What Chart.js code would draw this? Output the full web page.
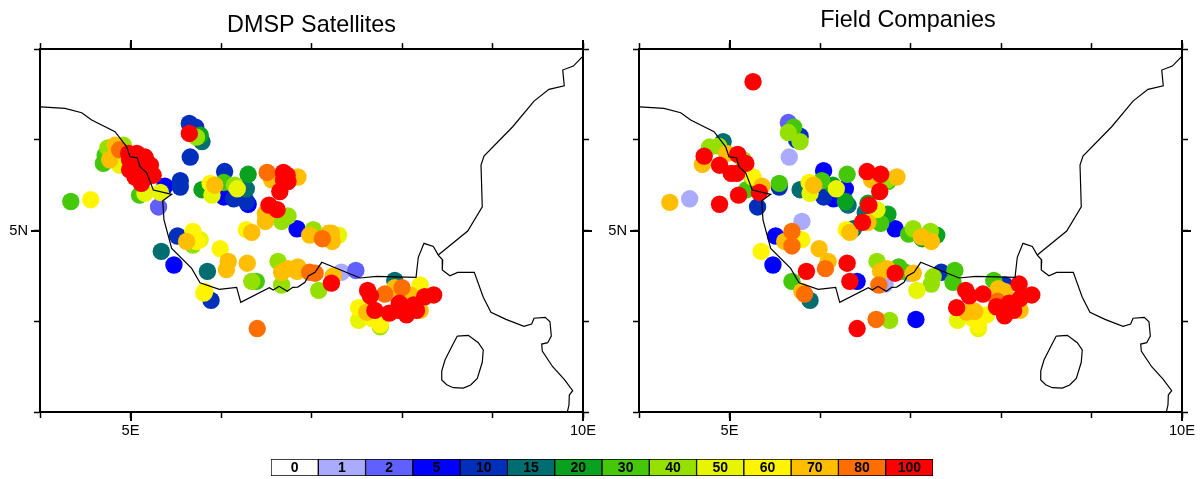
<!DOCTYPE html>
<html><head><meta charset="utf-8">
<style>html,body{margin:0;padding:0;background:#fff;width:1201px;height:479px;overflow:hidden}
canvas{position:absolute;display:block}</style>
<script src="https://cdn.jsdelivr.net/npm/chart.js@4"></script></head>
<body>
<canvas id="sat" width="623" height="445" style="left:0;top:0"></canvas>
<canvas id="field" width="616" height="445" style="left:600px;top:0"></canvas>
<canvas id="bar" width="700" height="29" style="left:250px;top:450px"></canvas>
<script>
const levels=[0,1,2,5,10,15,20,30,40,50,60,70,80,100];
const levelColors=['#FFFFFF','#AAAAFF','#6060FF','#0000FF','#0030BB','#006D70','#0AA020','#46C80A','#96E000','#E8F500','#FFF500','#FFBE00','#FF6E00','#FF0000'];
const lonTicks=[4,5,6,7,8,9,10], latTicks=[3,4,5,6,7], majorLons=[5,10], majorLats=[5];

const satLon=[7.33, 5.31,7.49, 6.03,6.30,6.84,5.38,5.48,
5.65,5.72,5.66,5.55,5.55,6.04,6.14,6.28,5.52,5.89,
5.79,5.34,6.28,5.85,7.92, 5.77,6.30,5.79,
4.34,4.70,4.72,5.10,6.03,6.39,
5.73,4.75,4.92,6.15,6.74,6.67,7.02,5.69,6.63,6.34,6.67,7.08,7.76,
5.90,5.16,5.33,6.18,4.88,5.77,7.52,7.30,
4.56,5.88,5.69,5.73,5.99,6.28,5.81,5.82,8.20,7.76,7.67,7.52,
5.93,4.77,4.83,6.56,6.85,6.49,6.49,6.34,6.98,7.19,5.62,6.08,6.06,6.29,6.67,6.74,6.84,6.85,7.22,7.23,7.24,7.61,8.09,8.20,7.92,
6.51,4.88,6.40,6.98,7.04,7.12,7.81,8.00,
5.65,4.98,5.07,5.16,5.18,4.99,4.99,5.11,5.05,5.16,5.25,5.12,5.22,5.05,5.12,5.20,6.69,6.73,6.69,6.74,6.65,6.53,6.62,7.22,7.62,7.65,7.70,7.86,7.97,7.96,8.13,8.05,8.16,8.25,8.35];
const satLat=[4.54, 5.26,4.56, 5.37,5.29,5.02,5.49,4.62,
6.18,6.14,5.81,5.55,5.48,5.65,5.35,5.32,4.94,4.23,
5.98,4.77,5.46,4.55,4.45, 6.05,5.62,5.45,
5.32,5.74,5.83,5.39,5.53,4.44,
6.03,5.91,5.94,5.50,5.16,5.10,5.01,4.84,4.66,4.44,4.40,4.34,3.94,
5.39,5.41,5.42,5.46,5.72,4.90,4.01,4.95,
5.34,5.52,4.99,4.88,4.80,5.01,4.31,4.33,4.40,3.96,4.03,4.15,
5.50,5.78,5.94,5.56,5.59,5.19,5.10,4.98,4.95,4.97,4.88,4.66,4.57,4.64,4.54,4.58,4.55,4.60,4.97,4.88,4.50,4.10,4.29,4.12,4.37,
5.64,5.89,3.92,4.54,4.53,4.91,4.30,4.37,
6.07,5.85,5.85,5.81,5.76,5.78,5.67,5.69,5.59,5.58,5.61,5.52,5.72,5.72,5.62,5.68,5.64,5.61,5.56,5.54,5.43,5.28,5.23,4.42,4.34,4.28,4.12,4.09,4.20,4.12,4.18,4.07,4.12,4.27,4.29];
const satVal=[1, 2,2, 5,5,5,5,5,
10,10,10,10,10,10,10,10,10,10,
15,15,15,15,15, 20,20,20,
30,30,30,30,30,30,
40,40,40,40,40,40,40,40,40,40,40,40,40,
50,50,50,50,50,50,50,50,
60,60,60,60,60,60,60,60,60,60,60,60,
70,70,70,70,70,70,70,70,70,70,70,70,70,70,70,70,70,70,70,70,70,70,70,70,70,
80,80,80,80,80,80,80,80,
100,100,100,100,100,100,100,100,100,100,100,100,100,100,100,100,100,100,100,100,100,100,100,100,100,100,100,100,100,100,100,100,100,100,100];

const fieldLon=[4.56,5.66,5.80,6.98,6.72, 5.65,
6.04,6.28,6.15,6.83,5.51,5.48,7.06,6.41,
5.31,5.55,5.78,5.74,6.04,7.34,8.04,
4.93,5.78,6.31,6.50,6.37,5.89,
6.28,6.75,6.53,6.14,7.13,7.29,
5.55,5.71,6.02,6.30,6.75,6.67,6.98,5.19,6.87,5.69,7.49,7.47,7.92,6.92,
5.78,5.65,4.78,4.88,5.15,5.25,6.74,7.03,7.22,6.63,6.77,7.25,7.23,
5.89,6.18,6.63,7.07,7.52,7.75,
5.88,6.29,5.35,5.26,5.80,7.73,7.84,7.75,7.69,
4.34,4.70,4.97,5.36,5.93,6.57,6.85,6.33,6.53,5.99,5.61,6.09,6.67,6.74,7.03,7.12,7.23,5.80,7.62,7.71,7.97,8.04,8.21,
5.69,5.69,6.06,5.83,6.62,6.65,7.96,
5.26,4.72,4.89,5.09,5.18,5.02,5.08,4.89,5.10,5.33,6.52,6.67,6.66,6.54,6.47,6.41,6.30,5.85,6.33,6.83,7.61,7.65,7.80,7.51,8.20,8.34,7.95,8.09,8.21,8.04,8.14];
const fieldLat=[5.35,5.81,5.10,4.53,4.41, 6.19,
5.66,5.46,5.35,5.02,4.94,4.62,4.02,4.44,
5.26,5.48,6.04,6.00,5.37,4.54,4.40,
5.98,5.45,5.28,5.20,5.02,4.23,
5.32,5.18,5.30,5.50,4.91,4.95,
5.52,6.14,5.55,5.62,5.54,5.08,4.96,5.45,4.60,4.44,4.56,4.43,4.45,4.55,
5.98,6.08,5.92,5.93,5.78,5.59,5.56,5.02,4.99,4.66,4.01,4.49,4.41,
5.41,5.46,5.23,4.34,4.01,3.92,
5.53,5.01,4.77,5.59,4.90,4.09,4.07,3.96,4.03,
5.31,5.73,5.85,5.49,5.50,5.56,5.59,4.98,5.09,4.80,4.88,4.66,4.55,4.58,4.53,4.93,4.88,4.33,4.10,4.11,4.36,4.33,4.12,
4.99,4.83,4.58,4.30,4.02,4.40,4.22,
6.64,5.82,5.72,5.84,5.74,5.63,5.63,5.29,5.39,5.42,5.65,5.62,5.43,5.28,5.09,3.92,4.64,4.55,4.44,4.53,4.34,4.28,4.30,4.15,4.41,4.29,4.16,4.20,4.25,4.06,4.12];
const fieldVal=[1,1,1,1,1, 2,
5,5,5,5,5,5,5,5,
10,10,10,10,10,10,10,
15,15,15,15,15,15,
20,20,20,20,20,20,
30,30,30,30,30,30,30,30,30,30,30,30,30,30,
40,40,40,40,40,40,40,40,40,40,40,40,40,
50,50,50,50,50,50,
60,60,60,60,60,60,60,60,60,
70,70,70,70,70,70,70,70,70,70,70,70,70,70,70,70,70,70,70,70,70,70,70,
80,80,80,80,80,80,80,
100,100,100,100,100,100,100,100,100,100,100,100,100,100,100,100,100,100,100,100,100,100,100,100,100,100,100,100,100,100,100];

const coastWestLon=[4.008,4.276,4.461,4.571,4.829,4.958,4.994,5.075,5.105,5.179,5.252,5.455,5.356,5.370,5.455,5.676,5.768,5.981,6.173,6.218,6.534,6.578,6.641,6.733,6.792,6.848,6.928,6.965,7.039,7.113,7.536,7.720,8.155,8.180,8.243,8.346,8.401,8.450,8.445,8.530,8.615,8.799,8.898,8.983,9.149,9.348,9.433,9.459,9.583,9.635,9.650,9.610,9.544,9.550,9.665,9.793,9.886,9.849,9.845,9.827];
const coastWestLat=[6.364,6.347,6.298,6.218,6.089,5.923,5.813,5.802,5.703,5.637,5.446,5.399,5.328,5.116,4.804,4.583,4.425,4.352,4.374,4.209,4.370,4.344,4.385,4.330,4.374,4.377,4.429,4.499,4.539,4.650,4.477,4.495,4.484,4.705,4.859,4.824,4.730,4.675,4.565,4.502,4.539,4.539,4.264,4.099,4.021,3.944,3.970,4.033,4.044,3.995,3.837,3.764,3.749,3.672,3.499,3.360,3.235,3.187,3.077,3.000];
const coastEastLon=[8.401,8.726,8.887,8.873,8.906,9.223,9.459,9.624,9.793,9.776,9.893,10.000];
const coastEastLat=[4.730,4.994,5.262,5.722,5.821,6.144,6.427,6.556,6.596,6.769,6.813,6.923];
const islandLon=[8.611,8.733,8.843,8.898,8.887,8.832,8.759,8.677,8.567,8.494,8.439,8.439,8.475,8.549,8.611];
const islandLat=[3.837,3.845,3.764,3.683,3.548,3.371,3.298,3.264,3.268,3.301,3.353,3.452,3.573,3.720,3.837];

const FONT='"Liberation Sans", Arial, sans-serif';
const zip=(a,b)=>a.map((v,i)=>({x:v,y:b[i]}));
const colorOf=v=>levelColors[levels.indexOf(v)];
const coast=d=>({type:'line',data:d,showLine:true,borderColor:'#000',borderWidth:1.2,pointRadius:0,fill:false,tension:0,order:0,borderJoinStyle:'miter'});

const majorTicks={id:'majorTicks',afterDraw(c){
  const g=c.ctx,a=c.chartArea,L=9;
  g.save();g.strokeStyle='#000';g.lineWidth=2;g.beginPath();
  majorLons.forEach(v=>{const p=Math.round(c.scales.x.getPixelForValue(v));g.moveTo(p,a.top);g.lineTo(p,a.top-L);g.moveTo(p,a.bottom);g.lineTo(p,a.bottom+L);});
  majorLats.forEach(v=>{const p=Math.round(c.scales.y.getPixelForValue(v));g.moveTo(a.left,p);g.lineTo(a.left-L,p);g.moveTo(a.right,p);g.lineTo(a.right+L,p);});
  g.stroke();g.restore();}};

function panel(id,title,lon,lat,val,o){
  const grid={drawOnChartArea:false,drawTicks:true,tickLength:6,tickWidth:1.5,tickColor:'#000'};
  const border={display:true,color:'#000',width:2};
  const base={type:'linear',grid,border};
  new Chart(document.getElementById(id),{type:'scatter',
    data:{datasets:[
      coast(zip(coastWestLon,coastWestLat)),coast(zip(coastEastLon,coastEastLat)),coast(zip(islandLon,islandLat)),
      {data:zip(lon,lat),pointRadius:8.7,pointHoverRadius:8.7,pointBorderWidth:0,pointBackgroundColor:val.map(colorOf),order:1}
    ]},
    options:{responsive:false,animation:false,devicePixelRatio:1,
      layout:{padding:0},
      plugins:{legend:{display:false},tooltip:{enabled:false},
        title:{display:true,text:title,color:'#000',font:{family:FONT,size:23.4,weight:'normal',lineHeight:1.2},padding:o.titlePad}},
      scales:{
        x:{...base,position:'bottom',min:4,max:10,afterBuildTicks:s=>{s.ticks=lonTicks.map(v=>({value:v}));},
          ticks:{autoSkip:false,maxRotation:0,color:'#000',padding:4,font:{family:FONT,size:14.7},callback:v=>majorLons.includes(v)?v+'E':''},
          afterFit:s=>{s.height=33;}},
        xTop:{...base,position:'top',min:4,max:10,afterBuildTicks:s=>{s.ticks=lonTicks.map(v=>({value:v}));},ticks:{display:false},afterFit:s=>{s.height=9;}},
        y:{...base,position:'left',min:3,max:7,afterBuildTicks:s=>{s.ticks=latTicks.map(v=>({value:v}));},
          ticks:{autoSkip:false,color:'#000',padding:6,font:{family:FONT,size:14.7},callback:v=>majorLats.includes(v)?v+'N':''},
          afterFit:s=>{s.width=o.left;}},
        yRight:{...base,position:'right',min:3,max:7,afterBuildTicks:s=>{s.ticks=latTicks.map(v=>({value:v}));},ticks:{display:false},afterFit:s=>{s.width=o.right;}}
      }},
    plugins:[majorTicks]});
}
panel('sat','DMSP Satellites',satLon,satLat,satVal,{left:40,right:40,titlePad:{top:12,bottom:0}});
panel('field','Field Companies',fieldLon,fieldLat,fieldVal,{left:39,right:34,titlePad:{top:7,bottom:5}});

const barLabels={id:'barLabels',afterDatasetsDraw(c){
  const g=c.ctx,m=c.getDatasetMeta(0),a=c.chartArea;
  g.save();g.fillStyle='#000';g.font='bold 14px '+FONT;g.textAlign='center';g.textBaseline='middle';
  m.data.forEach((b,i)=>g.fillText(String(levels[i]),b.x,(a.top+a.bottom)/2+0.5));
  g.restore();}};
new Chart(document.getElementById('bar'),{type:'bar',
  data:{labels:levels.map(String),datasets:[{data:levels.map(()=>1),backgroundColor:levelColors,borderColor:'#000',borderWidth:1,borderSkipped:false,barPercentage:1,categoryPercentage:1}]},
  options:{responsive:false,animation:false,devicePixelRatio:1,layout:{padding:{left:21,right:17,top:9,bottom:3}},
    plugins:{legend:{display:false},tooltip:{enabled:false}},
    scales:{x:{display:false},y:{display:false,min:0,max:1}}},
  plugins:[barLabels]});
</script>
</body></html>
